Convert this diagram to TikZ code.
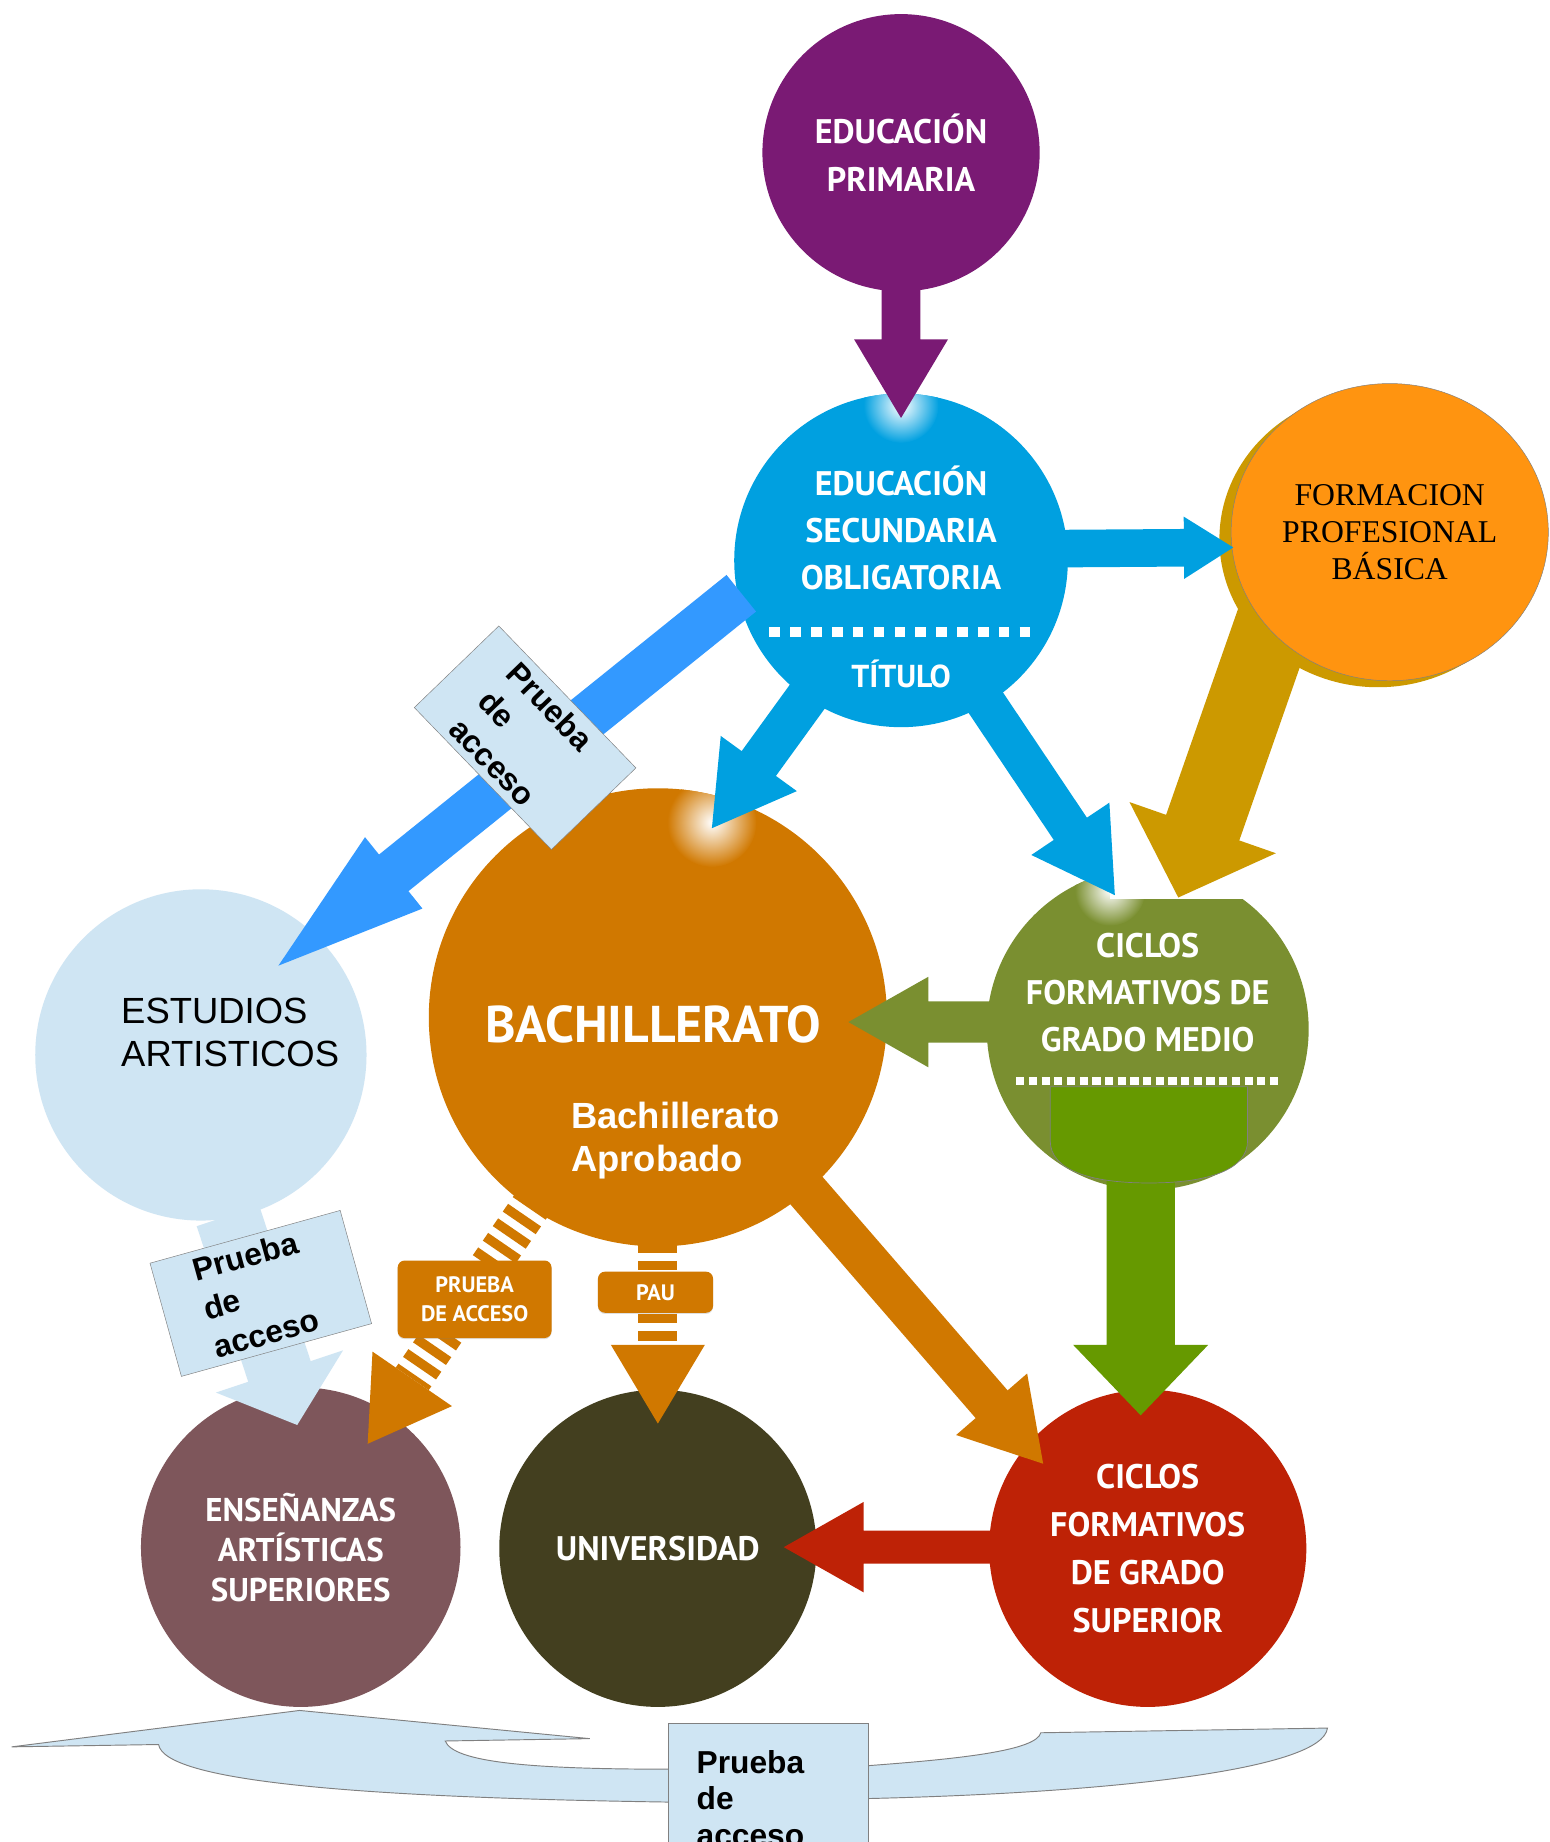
\documentclass[tikz,border=0pt]{standalone}
\usepackage{fontspec}
\usetikzlibrary{calc,shapes.geometric,shadows}
\newfontfamily\dinfont{PT Sans}
\newfontfamily\arialfont{Liberation Sans}
\newfontfamily\timesfont{Liberation Serif}
\newcommand\fs[2]{\fontsize{#1}{#2}\selectfont}
\definecolor{primcol}{RGB}{122,26,116}
\definecolor{esocol}{RGB}{0,160,224}
\definecolor{fpbcol}{RGB}{255,148,16}
\definecolor{goldcol}{RGB}{204,153,0}
\definecolor{accblue}{RGB}{51,153,255}
\definecolor{lblue}{RGB}{207,229,243}
\definecolor{bachcol}{RGB}{208,120,0}
\definecolor{cfmcol}{RGB}{122,143,48}
\definecolor{grncol}{RGB}{102,153,0}
\definecolor{enscol}{RGB}{126,86,91}
\definecolor{unicol}{RGB}{67,63,31}
\definecolor{cfscol}{RGB}{190,34,6}
\newcommand\fatarrow[6]{%
  \path (#2) coordinate (fa-s) (#3) coordinate (fa-e);
  \path ($(fa-e)!#6!(fa-s)$) coordinate (fa-h);
  \fill[#1] ($(fa-s)!#4!90:(fa-e)$) -- ($(fa-h)!#4!-90:(fa-s)$) -- ($(fa-h)!#5!-90:(fa-s)$) -- (fa-e)
    -- ($(fa-h)!#5!90:(fa-s)$) -- ($(fa-h)!#4!90:(fa-s)$) -- ($(fa-s)!#4!-90:(fa-e)$) -- cycle;}
\newcommand\stripearrow[6]{%
  \path (#2) coordinate (fa-s) (#3) coordinate (fa-e);
  \path ($(fa-e)!#6!(fa-s)$) coordinate (fa-h);
  \draw[#1,line width=2*#4,dash pattern=on 8pt off 7pt] (fa-s) -- (fa-h);
  \fill[#1] ($(fa-h)!#5!-90:(fa-s)$) -- (fa-e) -- ($(fa-h)!#5!90:(fa-s)$) -- cycle;}

\begin{document}
\begin{tikzpicture}[x=1pt,y=-1pt,
  bubble/.style={circle,inner sep=0pt,minimum size=#1},
  captxt/.style={text=white,font=\dinfont\bfseries\fs{29}{40},align=center},
  pbox/.style={draw=gray,fill=lblue,minimum width=168,minimum height=100,text width=100,inner xsep=34,inner ysep=0,align=left,font=\arialfont\bfseries\fs{27}{34}},
  tag/.style={fill=bachcol,rounded corners=6,text=white,inner sep=0pt,align=center,font=\dinfont\bfseries\fs{19}{24},drop shadow={opacity=0.25,shadow xshift=0pt,shadow yshift=-1pt}},
  dotline/.style={white,line width=#1}]
\fill[white] (0,0) rectangle (1319,1568);
\useasboundingbox (0,0) rectangle (1319,1568);

\node[bubble=282,fill=lblue] (est) at (171,898) {};
\node[bubble=236,fill=primcol,captxt,font=\dinfont\bfseries\fs{29}{41}] (pri) at (767,130) {EDUCACIÓN\\PRIMARIA};
\node[bubble=284,fill=esocol] (eso) at (767,477) {};
\node[bubble=390,fill=bachcol] (bach) at (560,866) {};
\node[bubble=274,fill=cfmcol] (cfm) at (977,876) {};
\node[bubble=272,fill=enscol,captxt,font=\dinfont\bfseries\fs{28}{34}] (ens) at (256,1317) {ENSEÑANZAS\\ARTÍSTICAS\\SUPERIORES};
\node[bubble=270,fill=unicol,captxt] (uni) at (560,1318) {UNIVERSIDAD};
\node[bubble=270,fill=cfscol,captxt,font=\dinfont\bfseries\fs{29}{41}] (cfs) at (977,1318) {CICLOS\\FORMATIVOS\\DE GRADO\\SUPERIOR};

\begin{scope}
  \clip (eso.center) circle[radius=142pt];
  \shade[inner color=white,outer color=esocol] (767,345) circle[radius=32pt];
\end{scope}
\begin{scope}
  \clip (bach.center) circle[radius=195pt];
  \shade[inner color=white,outer color=bachcol] (606,700) circle[radius=38pt];
\end{scope}
\begin{scope}
  \clip (cfm.center) circle[radius=137pt];
  \shade[inner color=white,outer color=cfmcol] (945,758) circle[radius=30pt];
\end{scope}
\fill[white] ($(cfm.center)+(-32,-145)$) rectangle ($(cfm.center)+(90,-111)$);

\coordinate (fpbpos) at (1183,453);
\fill[goldcol] ($(fpbpos)+(-10,6)$) ellipse[x radius=135pt,y radius=126pt];
\fatarrow{goldcol}{$(fpbpos)+(-93,62)$}{$(cfm.center)+(26,-112)$}{33pt}{66pt}{63pt}
\node[ellipse,minimum width=270,minimum height=253,inner sep=0pt,fill=fpbcol,draw=gray,font=\timesfont\fs{27}{31.5},align=center] (fpb) at (fpbpos) {FORMACION\\PROFESIONAL\\BÁSICA};

\fatarrow{primcol}{$(pri.center)+(0,105)$}{$(eso.north)+(0,21)$}{16.5pt}{40pt}{67pt}
\fatarrow{esocol}{$(eso.center)+(135,-10)$}{$(fpb.west)+(2,13)$}{16pt}{26.5pt}{42pt}
\fatarrow{esocol}{$(eso.center)+(-74,108)$}{$(bach.center)+(46,-161)$}{18pt}{40pt}{68pt}
\fatarrow{esocol}{$(eso.center)+(66,112)$}{$(cfm.center)+(-28,-114)$}{17pt}{40pt}{68pt}
\fatarrow{accblue}{$(eso.center)+(-136,28)$}{$(est.center)+(66,-76)$}{20pt}{39pt}{126pt}
\fatarrow{cfmcol}{$(cfm.center)+(-130,-6)$}{$(bach.east)+(-33,4)$}{17.5pt}{38.5pt}{68pt}
\fatarrow{bachcol}{$(bach.center)+(120,140)$}{$(cfs.center)+(-89,-72)$}{18pt}{40pt}{67pt}
\fatarrow{cfscol}{$(cfs.center)+(-127,-1)$}{$(uni.east)+(-28,-1)$}{14pt}{38.5pt}{68pt}
\fatarrow{lblue}{$(est.center)+(23,137)$}{$(ens.center)+(-3,-104)$}{28pt}{57pt}{48pt}
\fatarrow{grncol}{$(cfm.center)+(-6,90)$}{$(cfs.north)+(-6,22)$}{29pt}{57.5pt}{60pt}
\filldraw[fill=grncol,draw=gray,line width=0.6] ($(cfm.center)+(-83,49)$) -- ++(168,0) -- ++(0,46)
  .. controls +(0,25) and +(50,0) .. ($(cfm.center)+(1,131)$)
  .. controls +(-50,0) and +(0,25) .. ($(cfm.center)+(-83,95)$) -- cycle;

\draw[dotline=9pt,dash pattern=on 9pt off 8.75pt] ($(eso.center)+(-112,61)$) -- ($(eso.center)+(111,61)$);
\draw[dotline=7pt,dash pattern=on 7pt off 3.8pt] ($(cfm.center)+(-112,44)$) -- ($(cfm.center)+(111,44)$);

\stripearrow{bachcol}{$(bach.center)+(-105,156)$}{$(ens.center)+(57,-88)$}{17pt}{41pt}{67pt}
\stripearrow{bachcol}{$(bach.south)+(0,-3)$}{$(uni.north)+(0,29)$}{16.5pt}{40pt}{67pt}
\node[tag,minimum width=131,minimum height=66] (pacc) at (404,1106) {PRUEBA\\DE ACCESO};
\node[tag,minimum width=98,minimum height=35] (pau) at (558,1100) {PAU};

\node[captxt] (esot) at ($(eso.center)+(0,-28)$) {EDUCACIÓN\\SECUNDARIA\\OBLIGATORIA};
\node[captxt,font=\dinfont\bfseries\fs{27}{30}] (tit) at ($(eso.center)+(0,97)$) {TÍTULO};
\node[captxt,font=\dinfont\bfseries\fs{44}{48}] (bacht) at ($(bach.center)+(-4,6)$) {BACHILLERATO};
\node[text=white,font=\arialfont\bfseries\fs{31}{36},align=left,anchor=west,inner sep=0pt] (apr) at ($(bach.center)+(-74,105)$) {Bachillerato\\Aprobado};
\node[captxt] (cfmt) at ($(cfm.center)+(0,-31)$) {CICLOS\\FORMATIVOS DE\\GRADO MEDIO};
\node[font=\arialfont\fs{31}{37},align=left,anchor=west,inner sep=0pt] (estt) at ($(est.center)+(-68,-19)$) {ESTUDIOS\\ARTISTICOS};

\node[pbox,rotate=-46] (pa1) at (447,628) {Prueba\\de\\acceso};
\node[pbox,rotate=15.5] (pa2) at (222,1101) {Prueba\\de\\acceso};

\filldraw[fill=lblue,draw=gray,line width=0.8] (10,1487) -- (255,1456) -- (502,1480) -- (379,1482)
  .. controls (386,1500) and (450,1506) .. (569,1506) -- (739,1503)
  .. controls (820,1497) and (882,1490) .. (886,1475) -- (1130,1471)
  .. controls (1126,1506) and (950,1526) .. (739,1531) -- (569,1534)
  .. controls (300,1530) and (140,1516) .. (135,1485) -- cycle;
\node[pbox,minimum height=128,text width=122,inner xsep=24,font=\arialfont\bfseries\fs{27}{31}] (pa3) at (654,1531) {Prueba\\de\\acceso};
\end{tikzpicture}
\end{document}
